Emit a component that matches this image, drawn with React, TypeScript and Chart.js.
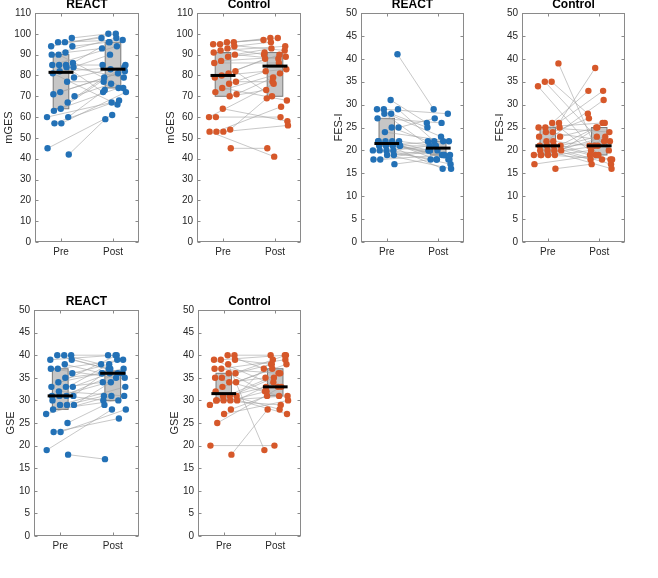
import React, { useEffect, useRef } from 'react';
import { Chart, registerables } from 'chart.js';

Chart.register(...registerables);

const FONT = '"Liberation Sans", Helvetica, Arial, sans-serif';
const groupLabels = ['Pre', 'Post'];

// ---- Data (paired: index i of Pre matches index i of Post) ----
// mGES, REACT
const reactMgesPre = [98, 96, 96, 94, 94, 91, 90, 90, 86, 85, 85, 85, 84, 84, 82, 81, 79, 77, 72, 71, 70, 67, 64, 63, 60, 60, 57, 57, 45, 42];
const reactMgesPost = [100, 98, 97, 100, 96, 93, 74, 98, 96, 85, 79, 94, 90, 72, 84, 66, 83, 77, 82, 81, 76, 79, 85, 74, 67, 73, 72, 68, 61, 59];
const reactMgesPreBox = [64, 81.5, 90];
const reactMgesPostBox = [74, 83, 96];

// mGES, Control
const controlMgesPre = [96, 96, 95, 95, 94, 93, 92, 91, 90, 89, 87, 86, 82, 81, 80, 79, 77, 76, 74, 72, 71, 70, 64, 60, 60, 54, 53, 53, 53, 45];
const controlMgesPost = [98, 97, 92, 98, 96, 90, 94, 88, 93, 91, 89, 86, 70, 88, 83, 90, 77, 82, 68, 81, 79, 73, 58, 60, 76, 69, 56, 65, 41, 45];
const controlMgesPreBox = [70, 80, 91];
const controlMgesPostBox = [70, 84.5, 91];

// FES-I, REACT
const reactFesPre = [41, 31, 29, 29, 29, 28, 28, 27, 25, 25, 24, 22, 22, 22, 22, 22, 21, 21, 21, 21, 21, 20, 20, 20, 20, 19, 19, 18, 18, 17];
const reactFesPost = [29, 26, 28, 23, 22, 25, 18, 26, 27, 22, 22, 19, 21, 20, 18, 16, 21, 20, 19, 22, 18, 21, 17, 19, 18, 20, 16, 19, 20, 18];
const reactFesPreBox = [21, 21.5, 27];
const reactFesPostBox = [19, 20.5, 22];

// FES-I, Control
const controlFesPre = [39, 35, 35, 34, 26, 26, 25, 25, 25, 24, 24, 23, 23, 22, 22, 21, 21, 21, 21, 20, 20, 20, 20, 19, 19, 19, 19, 19, 17, 16];
const controlFesPost = [21, 28, 20, 18, 38, 33, 24, 26, 19, 27, 22, 33, 25, 21, 18, 31, 23, 19, 17, 22, 25, 18, 16, 26, 21, 20, 18, 23, 19, 17];
const controlFesPreBox = [19, 21, 25];
const controlFesPostBox = [19, 21, 25];

// GSE, REACT
const reactGsePre = [40, 40, 40, 39, 39, 38, 37, 37, 36, 35, 34, 33, 33, 33, 32, 31, 31, 31, 31, 30, 29, 29, 29, 28, 27, 25, 23, 23, 19, 18];
const reactGsePost = [40, 38, 36, 40, 37, 36, 39, 35, 38, 36, 37, 40, 36, 34, 31, 39, 37, 30, 35, 36, 34, 31, 33, 30, 31, 29, 28, 26, 28, 17];
const reactGsePreBox = [28, 31, 37];
const reactGsePostBox = [30, 36, 36.5];

// GSE, Control
const controlGsePre = [40, 40, 39, 39, 39, 38, 37, 37, 36, 36, 35, 35, 34, 34, 33, 32, 31, 31, 31, 30, 30, 30, 30, 30, 29, 28, 27, 25, 20, 18];
const controlGsePost = [40, 37, 40, 33, 38, 19, 39, 36, 38, 32, 40, 31, 37, 35, 38, 28, 39, 33, 27, 36, 34, 32, 31, 29, 35, 31, 30, 33, 20, 28];
const controlGsePreBox = [30, 31.5, 36];
const controlGsePostBox = [31, 33, 37];

const mgesTicks = { max: 110, step: 10 };
const fiftyTicks = { max: 50, step: 5 };

const BLUE = '#2371b6';
const ORANGE = '#d6582a';

const panels = [
  { title: 'REACT', yLabel: 'mGES', scale: mgesTicks, pre: reactMgesPre, post: reactMgesPost, preBox: reactMgesPreBox, postBox: reactMgesPostBox, color: BLUE, axL: 35, axR: 140, axT: 13, axB: 242, ylOff: 26 },
  { title: 'Control', yLabel: 'mGES', scale: mgesTicks, pre: controlMgesPre, post: controlMgesPost, preBox: controlMgesPreBox, postBox: controlMgesPostBox, color: ORANGE, axL: 197, axR: 302, axT: 13, axB: 242, ylOff: 26 },
  { title: 'REACT', yLabel: 'FES-I', scale: fiftyTicks, pre: reactFesPre, post: reactFesPost, preBox: reactFesPreBox, postBox: reactFesPostBox, color: BLUE, axL: 361, axR: 465, axT: 13, axB: 242, ylOff: 22 },
  { title: 'Control', yLabel: 'FES-I', scale: fiftyTicks, pre: controlFesPre, post: controlFesPost, preBox: controlFesPreBox, postBox: controlFesPostBox, color: ORANGE, axL: 522, axR: 626, axT: 13, axB: 242, ylOff: 22 },
  { title: 'REACT', yLabel: 'GSE', scale: fiftyTicks, pre: reactGsePre, post: reactGsePost, preBox: reactGsePreBox, postBox: reactGsePostBox, color: BLUE, axL: 34, axR: 140, axT: 310, axB: 536, ylOff: 23 },
  { title: 'Control', yLabel: 'GSE', scale: fiftyTicks, pre: controlGsePre, post: controlGsePost, preBox: controlGsePreBox, postBox: controlGsePostBox, color: ORANGE, axL: 198, axR: 302, axT: 310, axB: 536, ylOff: 23 },
];

// deterministic horizontal spread of the markers (presentation only)
function spread(i: number, seed: number, amp: number) {
  const f = ((i + 1) * 0.7548776662 + seed) % 1;
  return (f - 0.5) * 2 * amp;
}

const decorPlugin = {
  id: 'decor',
  beforeDatasetsDraw(chart: any, _args: any, opts: any) {
    const { ctx, chartArea: a, scales } = chart;
    const x = scales.x;
    const y = scales.y;
    ctx.save();
    // frame
    ctx.strokeStyle = '#8a8a8a';
    ctx.lineWidth = 1;
    const L = Math.round(a.left) + 0.5;
    const R = Math.round(a.right) - 0.5;
    const T = Math.round(a.top) + 0.5;
    const B = Math.round(a.bottom) - 0.5;
    ctx.strokeRect(L, T, R - L, B - T);
    // inner ticks
    ctx.beginPath();
    y.ticks.forEach((t: any) => {
      const py = Math.round(y.getPixelForValue(t.value)) + 0.5;
      ctx.moveTo(L, py); ctx.lineTo(L + 3, py);
      ctx.moveTo(R, py); ctx.lineTo(R - 3, py);
    });
    x.ticks.forEach((t: any) => {
      const px = Math.round(x.getPixelForValue(t.value)) + 0.5;
      ctx.moveTo(px, B); ctx.lineTo(px, B - 3);
      ctx.moveTo(px, T); ctx.lineTo(px, T + 3);
    });
    ctx.stroke();
    // boxes (Q1 to Q3)
    opts.boxes.forEach((b: number[], k: number) => {
      const c = k + 1;
      const x0 = x.getPixelForValue(c - 0.15);
      const x1 = x.getPixelForValue(c + 0.15);
      const yT = y.getPixelForValue(b[2]);
      const yB = y.getPixelForValue(b[0]);
      ctx.fillStyle = '#c6c6c6';
      ctx.fillRect(x0, yT, x1 - x0, yB - yT);
      ctx.strokeStyle = '#7a7a7a';
      ctx.lineWidth = 1;
      ctx.strokeRect(x0, yT, x1 - x0, yB - yT);
    });
    ctx.restore();
  },
  afterDatasetsDraw(chart: any, _args: any, opts: any) {
    const { ctx, scales } = chart;
    const x = scales.x;
    const y = scales.y;
    ctx.save();
    ctx.strokeStyle = '#000';
    ctx.lineWidth = 3;
    opts.boxes.forEach((b: number[], k: number) => {
      const c = k + 1;
      const py = y.getPixelForValue(b[1]);
      ctx.beginPath();
      ctx.moveTo(x.getPixelForValue(c - 0.24), py);
      ctx.lineTo(x.getPixelForValue(c + 0.24), py);
      ctx.stroke();
    });
    ctx.restore();
  },
};

const H_T = 14;
const H_X = 20;
const PAD_R = 3;

function Panel(p: any) {
  const ref = useRef<HTMLCanvasElement>(null);
  const wY = p.ylOff + 7;
  const width = wY + (p.axR - p.axL) + PAD_R;
  const height = H_T + (p.axB - p.axT) + H_X;

  useEffect(() => {
    if (!ref.current) return;
    const points = [
      ...p.pre.map((v: number, i: number) => ({ x: 1 + spread(i, 0.13, 0.27), y: v })),
      ...p.post.map((v: number, i: number) => ({ x: 2 + spread(i, 0.58, 0.27), y: v })),
    ];
    const pairSets = p.pre.map((v: number, i: number) => ({
      data: [
        { x: 1 + spread(i, 0.13, 0.27), y: v },
        { x: 2 + spread(i, 0.58, 0.27), y: p.post[i] },
      ],
      showLine: true,
      borderColor: '#a3a3a3',
      borderWidth: 0.6,
      pointRadius: 0,
      order: 2,
    }));
    const chart = new Chart(ref.current, {
      type: 'scatter',
      data: {
        datasets: [
          {
            data: points,
            backgroundColor: p.color,
            borderColor: p.color,
            borderWidth: 0,
            pointRadius: 3.2,
            order: 1,
          },
          ...pairSets,
        ],
      },
      options: {
        responsive: false,
        animation: false,
        devicePixelRatio: 1,
        layout: { padding: { left: 0, right: PAD_R, top: 0, bottom: 0 } },
        plugins: {
          legend: { display: false },
          tooltip: { enabled: false },
          title: {
            display: true,
            text: p.title,
            fullSize: false,
            color: '#000',
            font: { family: FONT, size: 12, weight: 'bold', lineHeight: 1 },
            padding: { top: 0, bottom: 2 },
          },
          decor: { boxes: [p.preBox, p.postBox] },
        } as any,
        scales: {
          x: {
            type: 'linear',
            min: 0.5,
            max: 2.5,
            afterBuildTicks: (s: any) => { s.ticks = [{ value: 1 }, { value: 2 }]; },
            afterFit: (s: any) => { s.height = H_X; },
            grid: { display: false, drawTicks: false, tickLength: 0 },
            border: { display: false },
            ticks: {
              padding: 4,
              color: '#262626',
              font: { family: FONT, size: 10 },
              callback: (v: any) => (v === 1 ? groupLabels[0] : v === 2 ? groupLabels[1] : ''),
            },
          },
          y: {
            min: 0,
            max: p.scale.max,
            afterFit: (s: any) => { s.width = wY; },
            grid: { display: false, drawTicks: false, tickLength: 0 },
            border: { display: false },
            ticks: {
              stepSize: p.scale.step,
              autoSkip: false,
              padding: 4,
              color: '#262626',
              font: { family: FONT, size: 10 },
            },
            title: {
              display: true,
              text: p.yLabel,
              color: '#262626',
              font: { family: FONT, size: 11, lineHeight: 1.2 },
              padding: { top: 0.4, bottom: 0 },
            },
          },
        } as any,
      },
      plugins: [decorPlugin],
    } as any);
    return () => chart.destroy();
  }, []);

  return (
    <canvas
      ref={ref}
      width={width}
      height={height}
      style={{ position: 'absolute', left: p.axL - wY, top: p.axT - H_T, width, height }}
    />
  );
}

export default function App() {
  return (
    <div style={{ position: 'fixed', left: 0, top: 0, width: 658, height: 578, overflow: 'hidden', background: '#fff' }}>
      {panels.map((p, i) => (
        <Panel key={i} {...p} />
      ))}
    </div>
  );
}
